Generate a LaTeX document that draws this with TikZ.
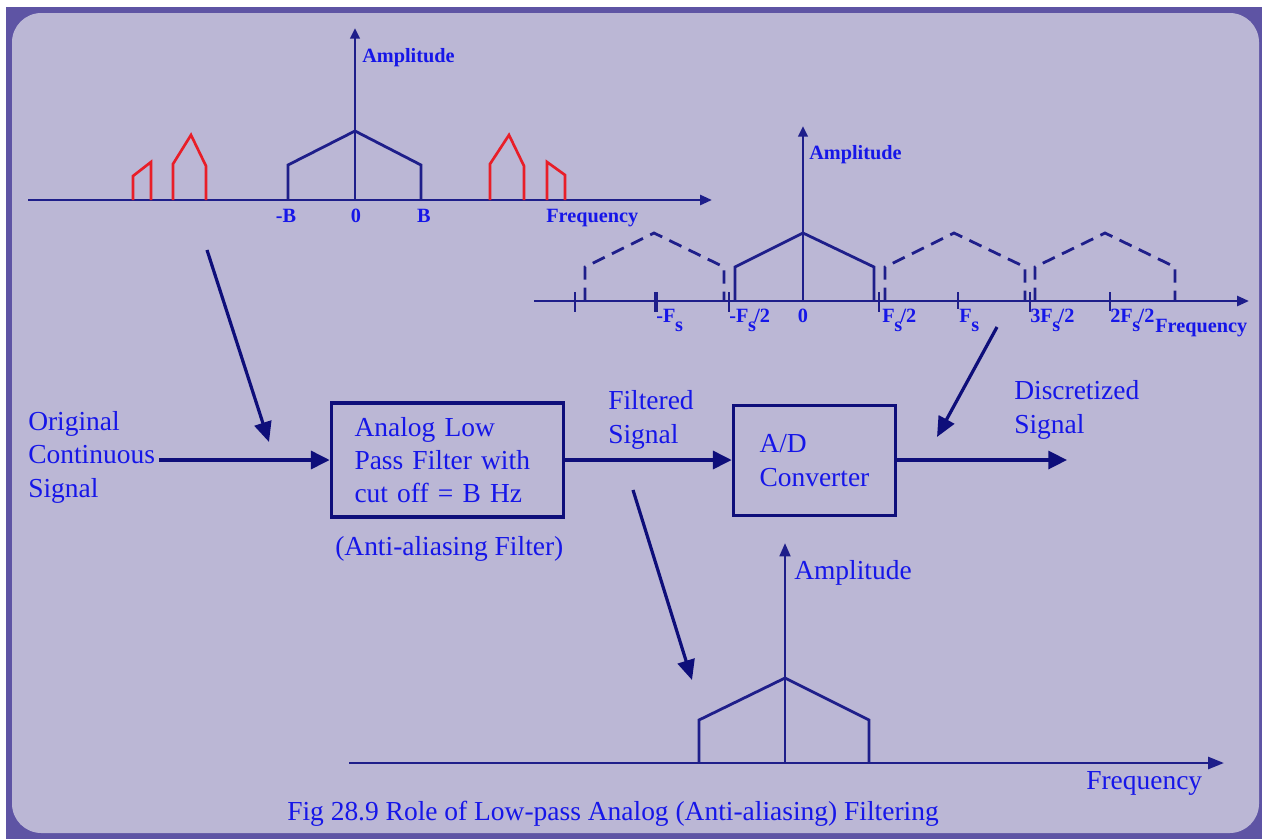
\documentclass[tikz,border=0pt]{standalone}
\usepackage{fontspec}
\setmainfont{Liberation Serif}
\usetikzlibrary{arrows.meta}
\definecolor{bgl}{RGB}{187,183,213}
\definecolor{frm}{RGB}{94,84,164}
\definecolor{linec}{RGB}{30,30,138}
\definecolor{boxc}{RGB}{14,14,122}
\definecolor{txtb}{RGB}{22,22,232}
\definecolor{redc}{RGB}{232,30,40}
\newcommand\Fsub{F\kern-0.3pt\raisebox{-7pt}{s}\kern-1.2pt}
\begin{document}
\begin{tikzpicture}[x=0.75pt,y=-0.75pt,
  axis/.style={draw=linec,line width=2pt,-{Triangle[length=9pt,width=7.5pt]}},
  spec/.style={draw=linec,line width=2.1pt,line join=miter},
  dspec/.style={spec,dash pattern=on 10pt off 6pt},
  alias/.style={draw=redc,line width=2pt},
  tck/.style={draw=linec,line width=1.5pt},
  lbl/.style={text=txtb,font={\bfseries\fontsize{15.2}{17}\selectfont},inner sep=0pt},
  txt/.style={text=txtb,font={\fontsize{20.6}{25}\selectfont},inner sep=0pt,align=left},
  blk/.style={draw=boxc,line width=2.8pt,txt,align=left},
  flow/.style={draw=boxc,line width=2.4pt,-{Triangle[length=14pt,width=13.5pt]}},
  point/.style={draw=boxc,line width=2.4pt,-{Triangle[length=15pt,width=13pt]}}]
\useasboundingbox (0,0) rectangle (1262,839);
% frame
\fill[white] (0,0) rectangle (1262,839);
\fill[frm] (6,7) rectangle (1262,839);
\fill[bgl,rounded corners=22pt] (12,13) rectangle (1259,833);

% ---------- top spectrum ----------
\coordinate (t0) at (355,200);
\draw[axis] (28,200) -- (712,200);
\draw[axis,-{Triangle[length=8pt,width=7pt]}] (t0) -- (355,28);
\draw[spec] (288,200) -- (288,165) -- (355,131) -- (421,165) -- (421,200);
\draw[alias] (133,200) -- (133,176) -- (151,162) -- (151,200);
\draw[alias] (173,200) -- (173,164) -- (191,135) -- (206,166) -- (206,200);
\draw[alias] (490,200) -- (490,164) -- (509,135) -- (524,166) -- (524,200);
\draw[alias] (547,200) -- (547,162) -- (565,175) -- (565,200);
\node[lbl,anchor=base west] (tamp) at (362,62) {Amplitude};
\node[lbl,anchor=base] (tmb) at (286,222) {-B};
\node[lbl,anchor=base] (t0l) at (356,222) {0};
\node[lbl,anchor=base] (tb) at (424,222) {B};
\node[lbl,anchor=base west] (tfreq) at (546,222) {Frequency};

% ---------- sampled spectrum ----------
\draw[axis] (534,301) -- (1249,301);
\draw[axis,-{Triangle[length=8pt,width=7pt]}] (803,301) -- (803,126);
\draw[spec] (735,301) -- (735,267) -- (803,233) -- (874,267) -- (874,301);
\draw[dspec] (585,301) -- (585,267) -- (654,233) -- (724,267) -- (724,301);
\draw[dspec] (885,301) -- (885,267) -- (954,233) -- (1025,267) -- (1025,301);
\draw[dspec] (1035,301) -- (1035,267) -- (1105,233) -- (1175,267) -- (1175,301);
\draw[tck] (575,292) -- (575,312);
\draw[tck,line width=3pt] (656,292) -- (656,312);
\draw[tck] (729,292) -- (729,312);
\draw[tck] (879,292) -- (879,312);
\draw[tck] (958,292) -- (958,309);
\draw[tck] (1030,292) -- (1030,312);
\draw[tck] (1110,292) -- (1110,311);
\node[lbl,anchor=base west] (mamp) at (809,159) {Amplitude};
\node[lbl,anchor=base west] (m1) at (656,322) {-\Fsub};
\node[lbl,anchor=base west] (m2) at (729,322) {-\Fsub/2};
\node[lbl,anchor=base] (m3) at (803,322) {0};
\node[lbl,anchor=base west] (m4) at (882,322) {\Fsub/2};
\node[lbl,anchor=base west] (m5) at (959,322) {\Fsub};
\node[lbl,anchor=base west] (m6) at (1030,322) {3\Fsub/2};
\node[lbl,anchor=base west] (m7) at (1110,322) {2\Fsub/2};
\node[lbl,anchor=base west] (mfreq) at (1155,332) {Frequency};

% ---------- block diagram ----------
\node[txt,anchor=base west] (orig) at (28,497) {Original\\Continuous\\Signal};
\node[blk,minimum width=174pt,minimum height=86pt,text width=139.5pt,inner xsep=17.25pt,inner ysep=0pt] (lpf) at (447.5,460) {Analog Low\\Pass Filter with\\cut off = B Hz};
\node[txt,anchor=base west] (aaf) at (335,555) {(Anti-aliasing Filter)};
\node[blk,minimum width=121.5pt,minimum height=82.5pt,text width=82.5pt,inner xsep=19.5pt,inner ysep=0pt] (adc) at (814.5,460.5) {A/D\\Converter};
\node[txt,anchor=base west] (filt) at (608,443) {Filtered\\Signal};
\node[txt,anchor=base west] (disc) at (1014,433) {Discretized\\Signal};
\coordinate (outend) at (1067,460);
\draw[flow] ([xshift=3pt]orig.east |- lpf.west) -- (lpf.west);
\draw[flow] (lpf.east) -- (lpf.east -| adc.west);
\draw[flow] (adc.east |- outend) -- (outend);

% pointer arrows
\coordinate (p1s) at (207,250); \coordinate (p1e) at (269,442);
\coordinate (p2s) at (997,327); \coordinate (p2e) at (937,437);
\coordinate (p3s) at (633,490); \coordinate (p3e) at (692,680);
\draw[point] (p1s) -- (p1e);
\draw[point] (p2s) -- (p2e);
\draw[point] (p3s) -- (p3e);

% ---------- bottom spectrum ----------
\draw[axis,-{Triangle[length=12pt,width=9pt]}] (349,763) -- (1224,763);
\draw[axis,-{Triangle[length=10pt,width=8pt]}] (785,763) -- (785,543);
\draw[spec] (699,763) -- (699,720) -- (785,678) -- (869,720) -- (869,763);
\node[txt,anchor=base west] (bamp) at (794,579) {Amplitude};
\node[txt,anchor=base west] (bfreq) at (1086,789) {Frequency};
\node[txt,anchor=base west] (cap) at (287,820) {Fig 28.9 Role of Low-pass Analog (Anti-aliasing) Filtering};
\end{tikzpicture}
\end{document}
